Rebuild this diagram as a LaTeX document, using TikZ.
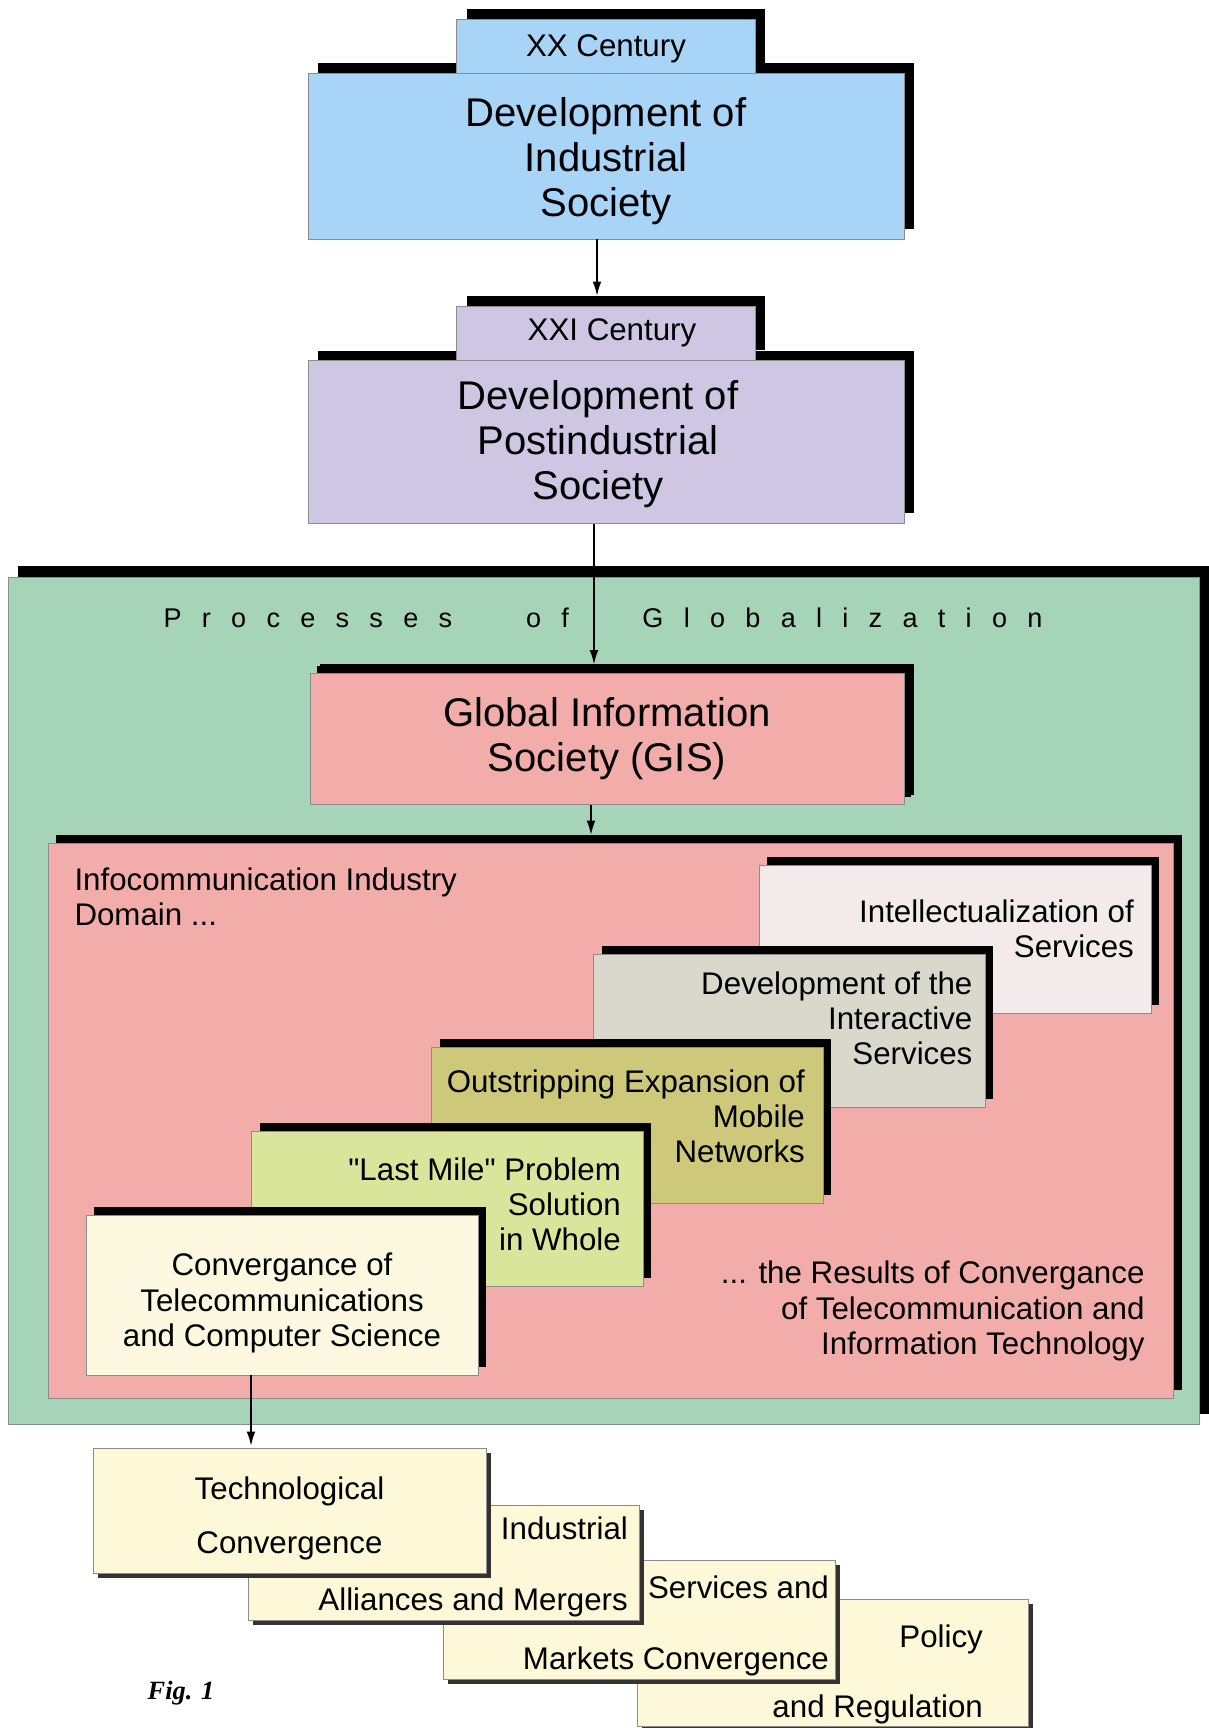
\documentclass[tikz,border=0pt]{standalone}
\usepackage{fontspec}
\setmainfont{Liberation Sans}[Ligatures=TeXOff]
\newfontfamily\figfont{Liberation Serif}
\newfontfamily\spacedfont{Liberation Sans}[LetterSpace=75]
\usetikzlibrary{arrows.meta,shadows}

\definecolor{indblue}{RGB}{168,212,248}
\definecolor{postlilac}{RGB}{207,198,228}
\definecolor{globgreen}{RGB}{166,212,184}
\definecolor{gispink}{RGB}{242,173,171}
\definecolor{intelwhite}{RGB}{243,235,235}
\definecolor{intergray}{RGB}{218,216,204}
\definecolor{mobolive}{RGB}{206,201,122}
\definecolor{milegreen}{RGB}{217,229,154}
\definecolor{convcream}{RGB}{253,249,224}
\definecolor{flatcream}{RGB}{252,248,216}

\newcommand\bigtxt{\fontsize{22.8}{25.6}\selectfont}
\newcommand\midtxt{\fontsize{17.8}{20}\selectfont}

\begin{document}
\begin{tikzpicture}[x = 0.02cm, y = -0.02cm, semithick,
frame/.style = {draw = black!45, line width = 0.5pt},
shade/.style 2 args = {general shadow = {fill = black, shadow xshift = #1, shadow yshift = #2}},
box/.style = {frame, minimum width = 11.92cm, shade = {0.2cm}{0.2cm}},
tab/.style = {frame, minimum width = 5.98cm, minimum height = 1.08cm, shade = {0.2cm}{0.2cm}},
stair/.style = {frame, minimum width = 7.84cm, shade = {0.16cm}{0.16cm}},
flat/.style = {frame, fill = flatcream, general shadow = {fill = black!80, shadow xshift = 0.1cm, shadow yshift = -0.1cm}},
txt/.style = {font = \midtxt, inner sep = 0pt},
bigt/.style = {font = \bigtxt, align = center, inner sep = 0pt},
arr/.style = {-{Latex[length = 8pt, width = 5pt]}, line width = 0.7pt}]
\useasboundingbox (0,0) rectangle (1209,1728);

\node[box, fill = indblue, minimum height = 3.32cm] (ind) at (606,156) {};
\node[bigt] (ind-t) at ([yshift = -0.11cm]ind.center) {Development of\\Industrial\\Society};
\node[tab, fill = indblue] (xx) at (606,46) {};
\node[txt] (xx-t) at ([yshift = -0.06cm]xx.center) {XX Century};
\node[box, fill = postlilac, minimum height = 3.26cm] (post) at (606,442) {};
\node[bigt] (post-t) at ([xshift = -0.16cm, yshift = -0.04cm]post.center) {Development of\\Postindustrial\\Society};
\node[tab, fill = postlilac] (xxi) at (606,333) {};
\node[txt] (xxi-t) at ([xshift = 0.12cm]xxi.center) {XXI Century};

\node[frame, fill = globgreen, minimum width = 23.84cm, minimum height = 16.96cm, shade = {0.2cm}{0.22cm}] (glob) at (604,1001) {};
\node[font = \spacedfont\fontsize{15.4}{18}\selectfont, anchor = west, inner sep = 0pt] (proc) at (163,618) {Processes\hspace{1.48cm}of\hspace{1.47cm}Globalization};
\node[box, fill = gispink, minimum width = 11.88cm, minimum height = 2.62cm, shade = {0.14cm}{0.16cm}] (gis) at (607,739) {};
\node[bigt] (gis-t) at (gis.center) {Global Information\\Society (GIS)};

\node[frame, fill = gispink, minimum width = 22.52cm, minimum height = 11.1cm, shade = {0.16cm}{0.16cm}] (icd) at (611,1120.5) {};
\node[txt, align = left, anchor = west] (dom) at (74,897) {Infocommunication Industry\\Domain ...};
\node[txt, align = right, anchor = east] (res) at (1145,1311) {... the Results of Convergance\\of Telecommunication and\\Information Technology};

\node[stair, fill = intelwhite, minimum height = 2.96cm] (intel) at (955,939) {};
\node[txt, align = right, anchor = east] (intel-t) at ([xshift = -0.34cm, yshift = 0.2cm]intel.east) {Intellectualization of\\Services};
\node[stair, fill = intergray, minimum height = 3.06cm] (inter) at (789.5,1030.5) {};
\node[txt, align = right, anchor = east] (inter-t) at ([xshift = -0.26cm, yshift = 0.24cm]inter.east) {Development of the\\Interactive\\Services};
\node[stair, fill = mobolive, minimum height = 3.12cm] (mob) at (627.5,1125) {};
\node[txt, align = right, anchor = east] (mob-t) at ([xshift = -0.37cm, yshift = 0.18cm]mob.east) {Outstripping Expansion of\\Mobile\\Networks};
\node[stair, fill = milegreen, minimum height = 3.1cm] (mile) at (447.5,1208.5) {};
\node[txt, align = right, anchor = east] (mile-t) at ([xshift = -0.45cm, yshift = 0.08cm]mile.east) {"Last Mile" Problem\\Solution\\in Whole};
\node[stair, fill = convcream, minimum height = 3.2cm] (conv) at (282,1295) {};
\node[txt, align = center] (conv-t) at ([yshift = -0.16cm]conv.center) {Convergance of\\Telecommunications\\and Computer Science};

\node[flat, minimum width = 7.82cm, minimum height = 2.54cm] (pol) at (832.5,1662.5) {};
\node[txt, align = right, anchor = east] (pol-t) at ([xshift = -0.9cm, yshift = -0.24cm]pol.east) {Policy\\[0.7cm]and Regulation};
\node[flat, minimum width = 7.84cm, minimum height = 2.38cm] (serv) at (639,1619.5) {};
\node[txt, align = right, anchor = east] (serv-t) at ([xshift = -0.12cm, yshift = -0.13cm]serv.east) {Services and\\[0.72cm]Markets Convergence};
\node[flat, minimum width = 7.82cm, minimum height = 2.3cm] (allia) at (443.5,1562.5) {};
\node[txt, align = right, anchor = east] (allia-t) at ([xshift = -0.22cm, yshift = -0.08cm]allia.east) {Industrial\\[0.72cm]Alliances and Mergers};
\node[flat, minimum width = 7.86cm, minimum height = 2.5cm] (tech) at (289.5,1510.5) {};
\node[txt, align = center] (tech-t) at ([yshift = -0.16cm]tech.center) {Technological\\[0.38cm]Convergence};

\node[font = \figfont\bfseries\itshape\fontsize{15}{18}\selectfont] (fig) at (181,1693) {Fig. 1};

\draw[arr, shorten >= 0.2cm] ([xshift = -0.18cm]ind.south) -- ([xshift = -0.18cm]ind.south |- xxi.north);
\draw[arr, shorten >= 0.18cm] ([xshift = -0.24cm]post.south) -- ([xshift = -0.24cm]post.south |- gis.north);
\draw[arr, shorten >= 0.16cm] ([xshift = -0.32cm]gis.south) -- ([xshift = -0.32cm]gis.south |- icd.north);
\draw[arr, shorten >= 0.04cm] ([xshift = -0.62cm]conv.south) -- ([xshift = -0.62cm]conv.south |- tech.north);
\end{tikzpicture}
\end{document}
